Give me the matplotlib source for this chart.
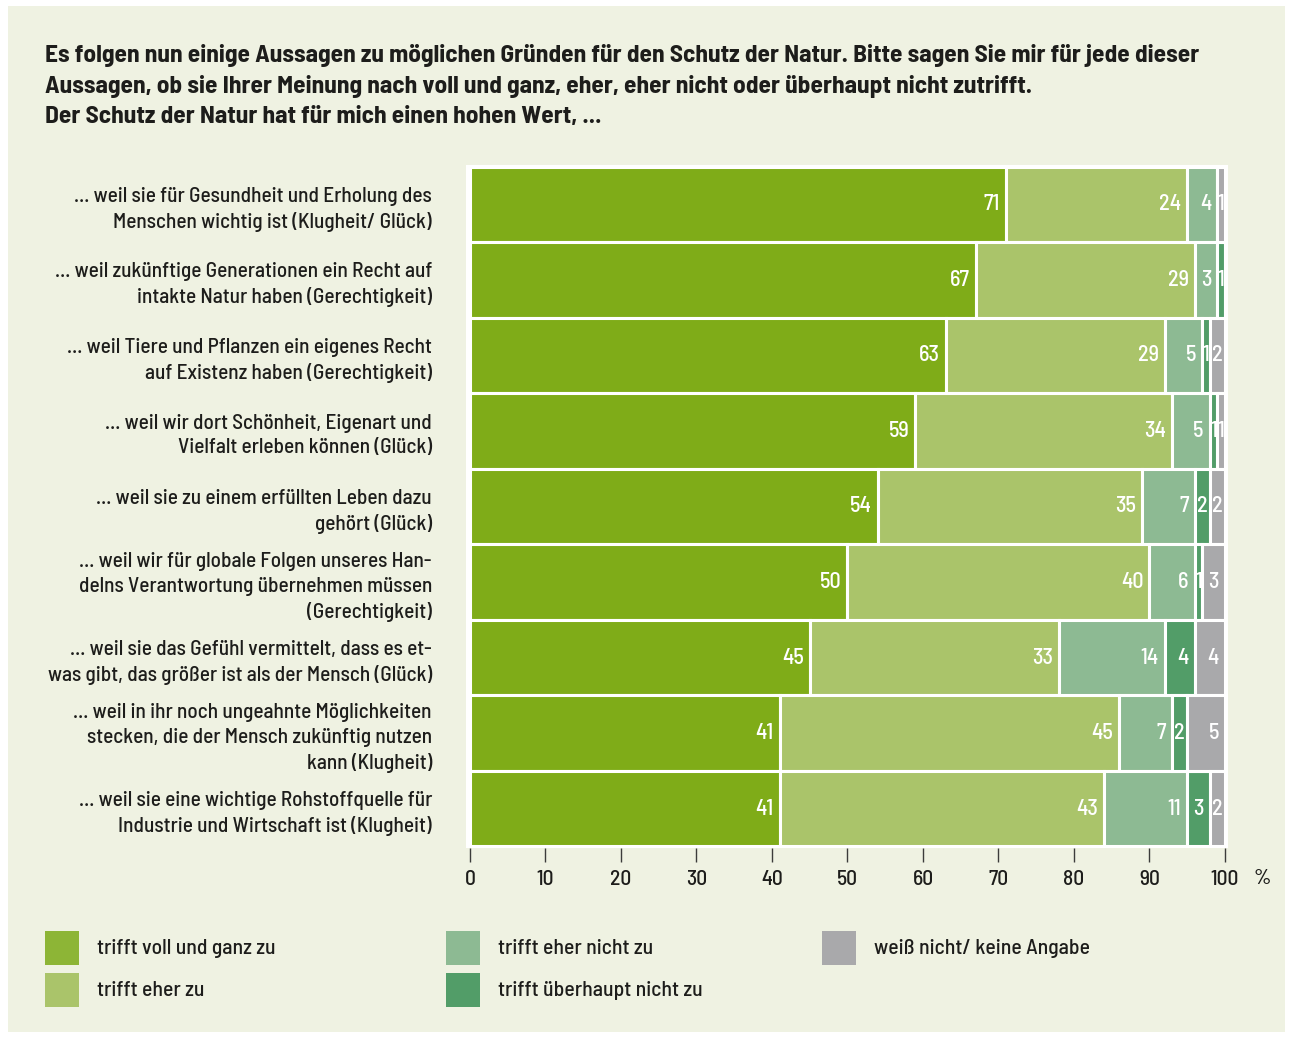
import matplotlib
matplotlib.use("Agg")
import matplotlib.pyplot as plt
from matplotlib.patches import Rectangle
import numpy as np

plt.rcParams['font.family'] = ['Barlow Semi Condensed', 'Roboto Condensed', 'Archivo Narrow', 'DejaVu Sans']
plt.rcParams['font.weight'] = 500

# ---- Daten ----
aussagen = [
    "... weil sie für Gesundheit und Erholung des\nMenschen wichtig ist (Klugheit/ Glück)",
    "... weil zukünftige Generationen ein Recht auf\nintakte Natur haben (Gerechtigkeit)",
    "... weil Tiere und Pflanzen ein eigenes Recht\nauf Existenz haben (Gerechtigkeit)",
    "... weil wir dort Schönheit, Eigenart und\nVielfalt erleben können (Glück)",
    "... weil sie zu einem erfüllten Leben dazu\ngehört (Glück)",
    "... weil wir für globale Folgen unseres Han-\ndelns Verantwortung übernehmen müssen\n(Gerechtigkeit)",
    "... weil sie das Gefühl vermittelt, dass es et-\nwas gibt, das größer ist als der Mensch (Glück)",
    "... weil in ihr noch ungeahnte Möglichkeiten\nstecken, die der Mensch zukünftig nutzen\nkann (Klugheit)",
    "... weil sie eine wichtige Rohstoffquelle für\nIndustrie und Wirtschaft ist (Klugheit)",
]

voll_und_ganz = [71, 67, 63, 59, 54, 50, 45, 41, 41]
eher_zu       = [24, 29, 29, 34, 35, 40, 33, 45, 43]
eher_nicht    = [4, 3, 5, 5, 7, 6, 14, 7, 11]
ueberhaupt    = [0, 1, 1, 1, 2, 1, 4, 2, 3]
weiss_nicht   = [1, 0, 2, 1, 2, 3, 4, 5, 2]

kategorien = ["trifft voll und ganz zu", "trifft eher zu", "trifft eher nicht zu",
              "trifft überhaupt nicht zu", "weiß nicht/ keine Angabe"]
farben = ["#7fac18", "#aac46a", "#8dba93", "#529d68", "#a9a9ab"]
legende_farben = ["#8db536", "#aac46a", "#8dba93", "#529d68", "#a9a9ab"]

titel = ("Es folgen nun einige Aussagen zu möglichen Gründen für den Schutz der Natur. Bitte sagen Sie mir für jede dieser\n"
         "Aussagen, ob sie Ihrer Meinung nach voll und ganz, eher, eher nicht oder überhaupt nicht zutrifft.\n"
         "Der Schutz der Natur hat für mich einen hohen Wert, ...")

BG = "#eff2e2"
TXT = "#1d1d1b"
W, H = 1293, 1038

fig = plt.figure(figsize=(W / 100, H / 100), dpi=100)
fig.patch.set_facecolor("white")
fig.add_artist(Rectangle((8 / W, 1 - 1032 / H), (1285 - 8) / W, (1032 - 6) / H,
                         transform=fig.transFigure, facecolor=BG, edgecolor="none", zorder=-10))

fig.text(45 / W, 1 - 44 / H, titel, ha="left", va="top", fontsize=18.3, fontweight="bold",
         color=TXT, linespacing=1.45)

# Achse: 0 % bei x=470 px, 100 % bei x=1225 px
px = 755 / 100
ax_l, ax_r = 466, 1228
ax_t, ax_b = 165, 848
ax = fig.add_axes([ax_l / W, 1 - ax_b / H, (ax_r - ax_l) / W, (ax_b - ax_t) / H])
ax.set_facecolor("white")
ax.set_xlim(-(470 - ax_l) / px, 100 + (ax_r - 1225) / px)
ax.set_ylim(8.52, -0.52)

serien = [voll_und_ganz, eher_zu, eher_nicht, ueberhaupt, weiss_nicht]
y = np.arange(len(aussagen))
links = np.zeros(len(aussagen))
for werte, farbe in zip(serien, farben):
    werte = np.array(werte, dtype=float)
    ax.barh(y, werte, left=links, height=1.0, color=farbe, edgecolor="white", linewidth=2.2)
    for yi, l, v in zip(y, links, werte):
        if v <= 0:
            continue
        if v <= 3:
            ax.text(l + v / 2, yi, f"{int(v)}", ha="center", va="center", color="white", fontsize=16)
        else:
            ax.text(l + v - 0.8, yi, f"{int(v)}", ha="right", va="center", color="white", fontsize=16)
    links += werte

for s in ax.spines.values():
    s.set_visible(False)
ax.set_xticks(range(0, 101, 10))
ax.tick_params(axis="x", length=10, width=1, color="#3c3c3b", labelsize=15.5,
               labelcolor=TXT, pad=6)
ax.set_yticks(y)
ax.set_yticklabels(aussagen, fontsize=15.3, color=TXT, linespacing=1.36)
ax.tick_params(axis="y", length=0, pad=24.5)
fig.text(1262 / W, 1 - 878 / H, "%", ha="center", va="center", fontsize=15.5, color=TXT)

# Legende
spalten_x = [45, 446, 822]
zeilen_y = [931, 973]
pos = [(0, 0), (0, 1), (1, 0), (1, 1), (2, 0)]
for (c, r), name, farbe in zip(pos, kategorien, legende_farben):
    x0, y0 = spalten_x[c], zeilen_y[r]
    fig.add_artist(Rectangle((x0 / W, 1 - (y0 + 34) / H), 34 / W, 34 / H,
                             transform=fig.transFigure, facecolor=farbe, edgecolor="none"))
    fig.text((x0 + 52) / W, 1 - (y0 + 18) / H, name, ha="left", va="center",
             fontsize=15.6, color=TXT)

fig.savefig("out.png", dpi=100, facecolor=fig.get_facecolor())
